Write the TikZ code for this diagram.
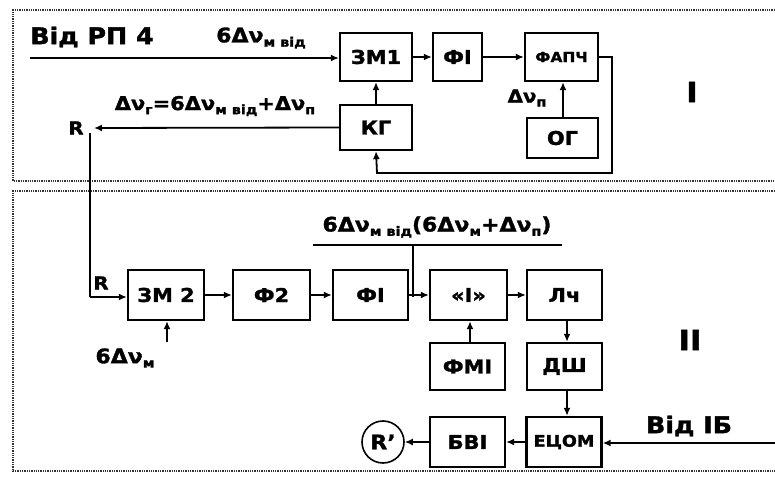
\documentclass[tikz,border=0pt]{standalone}
\usepackage{fontspec}
\setmainfont{DejaVu Sans}[FakeStretch=1.1,BoldFeatures={FakeBold=1.5}]
\usetikzlibrary{arrows.meta}
\newcommand{\sbs}[1]{\raisebox{-0.4ex}{\fontsize{13}{13}\selectfont #1}}
\begin{document}
\begin{tikzpicture}[x=1pt,y=-1pt,
  blk/.style={draw,line width=2.3pt,minimum width=#1,minimum height=48pt,inner sep=0pt,
    font=\bfseries\fontsize{19}{19}\selectfont},
  blk/.default=75pt,
  conn/.style={line width=1.8pt,-{Latex[length=8pt,width=7pt]}},
  plain/.style={line width=1.8pt},
  lbl/.style={inner sep=0pt,font=\bfseries\fontsize{20}{20}\selectfont},
  big/.style={inner sep=0pt,font=\bfseries\fontsize{23}{23}\selectfont},
  frm/.style={line width=1.3pt,densely dotted,black!80}]
\useasboundingbox (0,0) rectangle (775,478);
\fill[white] (0,0) rectangle (775,478);
% frames
\draw[frm] (775,10) -- (13,10) -- (13,181) -- (775,181);
\draw[frm] (775,191) -- (13,191) -- (13,471) -- (775,471);
% section I
\node[blk=72pt] (zm1) at (376,57) {ЗМ1};
\node[blk=49pt] (fi1) at (457.5,57) {ФІ};
\node[blk=73pt,font=\bfseries\fontsize{14}{14}\selectfont] (fapch) at (561.5,57) {ФАПЧ};
\node[blk=72pt,minimum height=45pt] (kg) at (376,127.5) {КГ};
\node[blk=71pt,minimum height=40pt] (og) at (562.5,138) {ОГ};
\coordinate (in1) at (30,58);
\coordinate (r1) at (94,128);
\coordinate (fb1) at (612,57);
\coordinate (fb2) at (612,173);
\coordinate (fb3) at (377,173);
\coordinate (v1) at (90,133);
\coordinate (v2) at (90,297);
\draw[conn] (in1) -- (zm1.west |- in1);
\draw[conn] (zm1) -- (fi1);
\draw[conn] (fi1) -- (fapch);
\draw[conn] (og.north -| 563,0) -- (fapch.south -| 563,0);
\draw[conn] (kg) -- (zm1);
\draw[conn] (fapch.east) -- (fb1) -- (fb2) -- (fb3) -- (kg.south);
\draw[conn] (kg.west) -- (r1);
\node[lbl,font=\bfseries\fontsize{18}{18}\selectfont] (rl1) at (76,128) {R};
\node[big] (vrp) at (92,37) {Від РП 4};
\node[lbl] (l6m) at (261,38) {6Δν\sbs{м від}};
\node[lbl,font=\bfseries\fontsize{19}{19}\selectfont] (lg) at (215,106) {Δν\sbs{г}=6Δν\sbs{м від}+Δν\sbs{п}};
\node[lbl,font=\bfseries\fontsize{18}{18}\selectfont] (lp) at (527,98) {Δν\sbs{п}};
\node[big,font=\bfseries\fontsize{28}{28}\selectfont] (s1) at (692,92) {I};
% section II
\node[blk=76pt,minimum height=50pt] (zm2) at (166,295) {ЗМ 2};
\node[blk=77pt,minimum height=50pt] (f2) at (271.5,295) {Ф2};
\node[blk=75pt,minimum height=50pt] (fi2) at (370.5,295) {ФІ};
\node[blk=77pt,minimum height=50pt] (ii) at (468.5,295) {«І»};
\node[blk=75pt,minimum height=50pt] (lch) at (564.5,295) {Лч};
\node[blk=75pt,minimum height=47pt] (fmi) at (467.5,366.5) {ФМІ};
\node[blk=75pt,minimum height=47pt] (dsh) at (564.5,366.5) {ДШ};
\node[blk=75pt,minimum height=50pt,font=\bfseries\fontsize{16}{16}\selectfont] (ecom) at (564,442) {ЕЦОМ};
\node[blk=75pt,minimum height=50pt] (bvi) at (467.5,442) {БВІ};
\node[draw,circle,line width=1.6pt,minimum size=42pt,inner sep=0pt,font=\bfseries\fontsize{20}{20}\selectfont] (rc) at (383,442) {R'};
\draw[plain] (v1) -- (v2);
\draw[conn] (v2) -- (zm2.west |- v2);
\node[lbl,font=\bfseries\fontsize{18}{18}\selectfont] (rl2) at (101,283) {R};
\draw[conn] (zm2) -- (f2);
\draw[conn] (f2) -- (fi2);
\draw[conn] (fi2) -- (ii);
\draw[conn] (ii) -- (lch);
\draw[conn] (fmi.north -| 470,0) -- (ii.south -| 470,0);
\draw[conn] (lch.south -| 567,0) -- (dsh.north -| 567,0);
\draw[conn] (dsh.south -| 567,0) -- (ecom.north -| 567,0);
\draw[conn] (ecom) -- (bvi);
\draw[conn] (bvi) -- (rc);
\coordinate (in2) at (775,443);
\draw[conn] (in2) -- (ecom.east |- in2);
\node[big] (vib) at (689,426) {Від ІБ};
\coordinate (b6) at (167,342);
\draw[conn] (b6) -- (zm2.south -| b6);
\node[lbl] (l6) at (125,358) {6Δν\sbs{м}};
\node[lbl] (lu) at (437,227) {6Δν\sbs{м від}(6Δν\sbs{м}+Δν\sbs{п})};
\coordinate (u1) at (313,245);
\coordinate (u2) at (562,245);
\coordinate (u3) at (413,245);
\coordinate (u4) at (413,297);
\draw[plain] (u1) -- (u2);
\draw[plain] (u3) -- (u4);
\node[big,font=\bfseries\fontsize{28}{28}\selectfont] (s2) at (690,340) {II};
\end{tikzpicture}
\end{document}
